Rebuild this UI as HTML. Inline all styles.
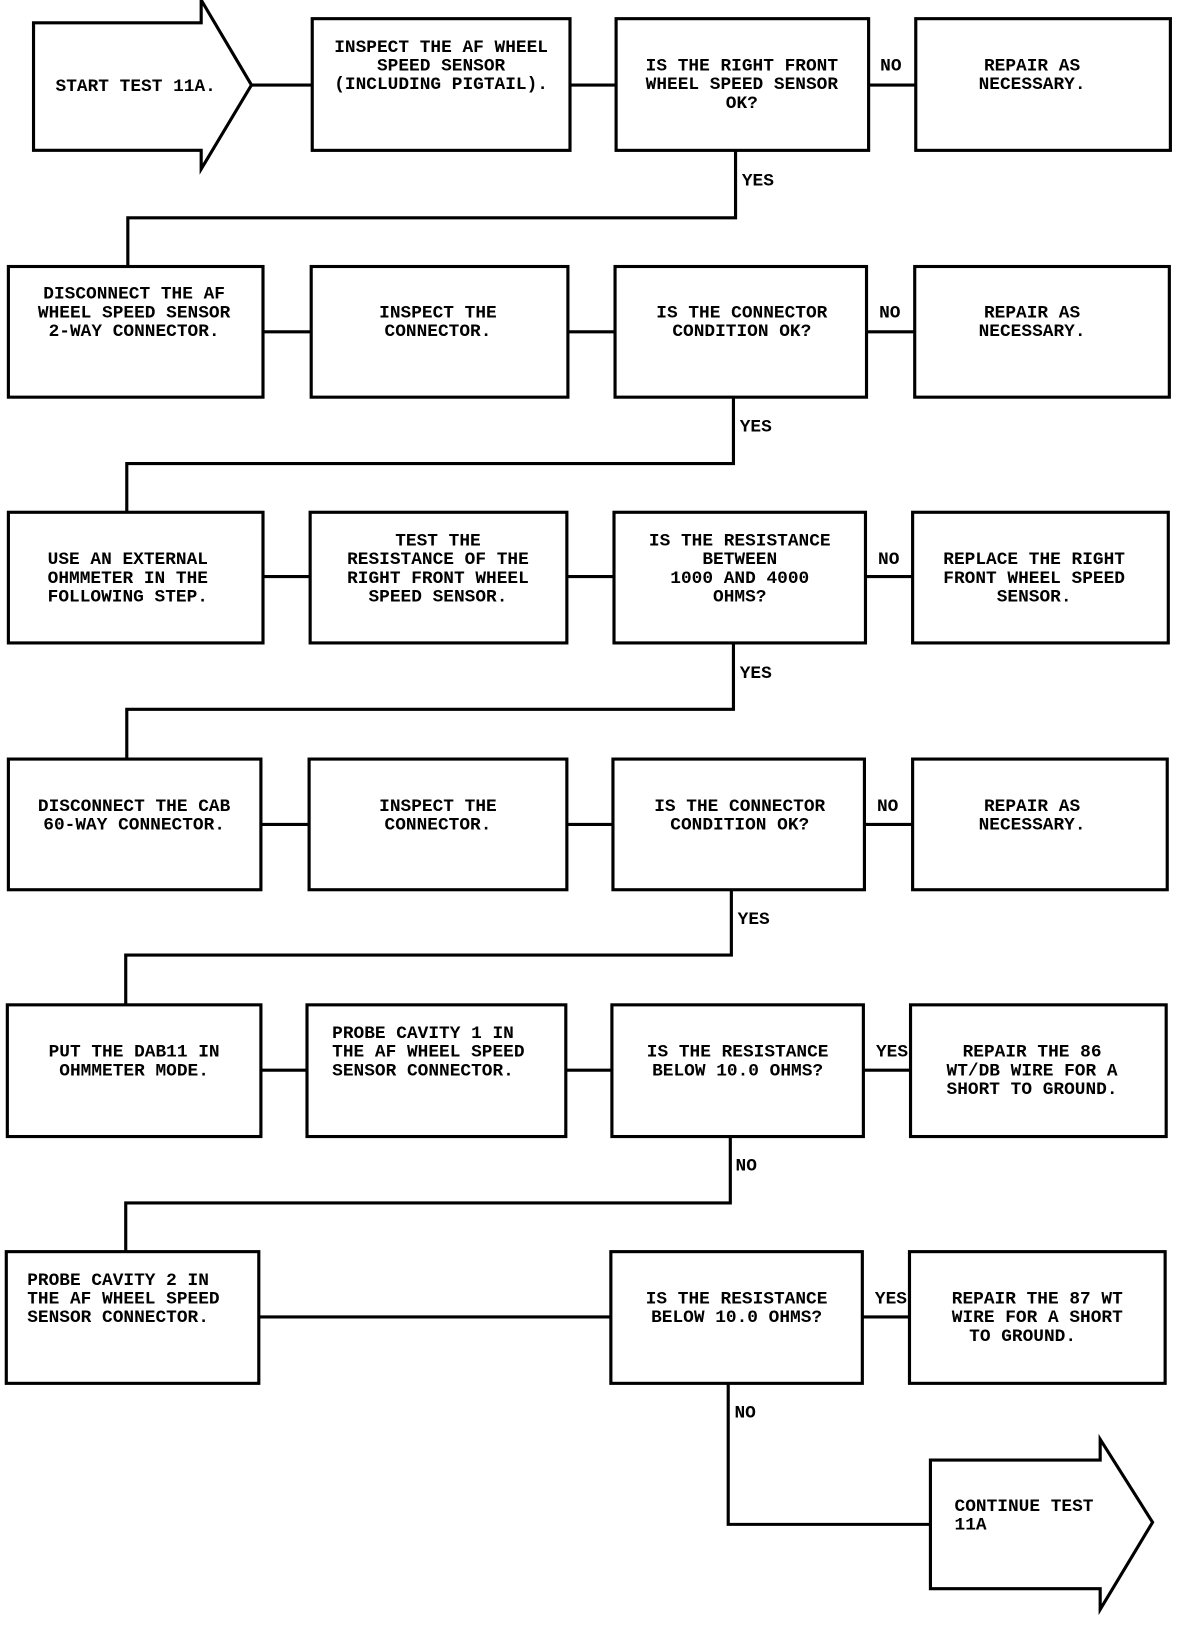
<!DOCTYPE html>
<html><head><meta charset="utf-8"><style>
html,body{margin:0;padding:0;background:#fff;}
svg{display:block;}
text{font-family:"Liberation Mono",monospace;font-size:17px;font-weight:bold;fill:#000;}
</style></head><body>
<svg width="1184" height="1626" viewBox="0 0 1130 1568" preserveAspectRatio="none" xmlns="http://www.w3.org/2000/svg">
<g fill="none" stroke="#000" stroke-width="3">
<!-- start arrow -->
<polygon points="32,22 192,22 192,0 240,82 192,163 192,145 32,145"/>
<!-- row1 -->
<rect x="298" y="18" width="246" height="127"/>
<rect x="588" y="18" width="241" height="127"/>
<rect x="874" y="18" width="243" height="127"/>
<!-- row2 -->
<rect x="8" y="257" width="243" height="126"/>
<rect x="297" y="257" width="245" height="126"/>
<rect x="587" y="257" width="240" height="126"/>
<rect x="873" y="257" width="243" height="126"/>
<!-- row3 -->
<rect x="8" y="494" width="243" height="126"/>
<rect x="296" y="494" width="245" height="126"/>
<rect x="586" y="494" width="240" height="126"/>
<rect x="871" y="494" width="244" height="126"/>
<!-- row4 -->
<rect x="8" y="732" width="241" height="126"/>
<rect x="295" y="732" width="246" height="126"/>
<rect x="585" y="732" width="240" height="126"/>
<rect x="871" y="732" width="243" height="126"/>
<!-- row5 -->
<rect x="7" y="969" width="242" height="127"/>
<rect x="293" y="969" width="247" height="127"/>
<rect x="584" y="969" width="240" height="127"/>
<rect x="869" y="969" width="244" height="127"/>
<!-- row6 -->
<rect x="6" y="1207" width="241" height="127"/>
<rect x="583" y="1207" width="240" height="127"/>
<rect x="868" y="1207" width="244" height="127"/>
<!-- continue arrow -->
<polygon points="888,1408 1050,1408 1050,1388 1100,1468 1050,1552 1050,1532 888,1532"/>
</g>
<g fill="none" stroke="#000" stroke-width="3">
<!-- horizontal connectors -->
<path d="M240 82H298 M544 82H588 M829 82H874"/>
<path d="M251 320H297 M542 320H587 M827 320H873"/>
<path d="M251 556H296 M541 556H586 M826 556H871"/>
<path d="M249 795H295 M541 795H585 M825 795H871"/>
<path d="M249 1032H293 M540 1032H584 M824 1032H869"/>
<path d="M247 1270H583 M823 1270H868"/>
<!-- yes/no down connectors -->
<path d="M702 145V210H122V257"/>
<path d="M700 383V447H121V494"/>
<path d="M700 620V684H121V732"/>
<path d="M698 858V921H120V969"/>
<path d="M697 1096V1160H120V1207"/>
<path d="M695 1334V1470H888"/>
</g>
<g>
<text x="53" y="88">START TEST 11A.</text>
<text x="421" y="50" text-anchor="middle">INSPECT THE AF WHEEL</text>
<text x="421" y="68" text-anchor="middle">SPEED SENSOR</text>
<text x="421" y="86" text-anchor="middle">(INCLUDING PIGTAIL).</text>
<text x="708" y="68" text-anchor="middle">IS THE RIGHT FRONT</text>
<text x="708" y="86" text-anchor="middle">WHEEL SPEED SENSOR</text>
<text x="708" y="104" text-anchor="middle">OK?</text>
<text x="840" y="68">NO</text>
<text x="985" y="68" text-anchor="middle">REPAIR AS</text>
<text x="985" y="86" text-anchor="middle">NECESSARY.</text>
<text x="708" y="179">YES</text>

<text x="128" y="288" text-anchor="middle">DISCONNECT THE AF</text>
<text x="128" y="306" text-anchor="middle">WHEEL SPEED SENSOR</text>
<text x="128" y="324" text-anchor="middle">2-WAY CONNECTOR.</text>
<text x="418" y="306" text-anchor="middle">INSPECT THE</text>
<text x="418" y="324" text-anchor="middle">CONNECTOR.</text>
<text x="708" y="306" text-anchor="middle">IS THE CONNECTOR</text>
<text x="708" y="324" text-anchor="middle">CONDITION OK?</text>
<text x="839" y="306">NO</text>
<text x="985" y="306" text-anchor="middle">REPAIR AS</text>
<text x="985" y="324" text-anchor="middle">NECESSARY.</text>
<text x="706" y="416">YES</text>

<text x="122" y="544" text-anchor="middle">USE AN EXTERNAL</text>
<text x="122" y="562" text-anchor="middle">OHMMETER IN THE</text>
<text x="122" y="580" text-anchor="middle">FOLLOWING STEP.</text>
<text x="418" y="526" text-anchor="middle">TEST THE</text>
<text x="418" y="544" text-anchor="middle">RESISTANCE OF THE</text>
<text x="418" y="562" text-anchor="middle">RIGHT FRONT WHEEL</text>
<text x="418" y="580" text-anchor="middle">SPEED SENSOR.</text>
<text x="706" y="526" text-anchor="middle">IS THE RESISTANCE</text>
<text x="706" y="544" text-anchor="middle">BETWEEN</text>
<text x="706" y="562" text-anchor="middle">1000 AND 4000</text>
<text x="706" y="580" text-anchor="middle">OHMS?</text>
<text x="838" y="544">NO</text>
<text x="987" y="544" text-anchor="middle">REPLACE THE RIGHT</text>
<text x="987" y="562" text-anchor="middle">FRONT WHEEL SPEED</text>
<text x="987" y="580" text-anchor="middle">SENSOR.</text>
<text x="706" y="654">YES</text>

<text x="128" y="782" text-anchor="middle">DISCONNECT THE CAB</text>
<text x="128" y="800" text-anchor="middle">60-WAY CONNECTOR.</text>
<text x="418" y="782" text-anchor="middle">INSPECT THE</text>
<text x="418" y="800" text-anchor="middle">CONNECTOR.</text>
<text x="706" y="782" text-anchor="middle">IS THE CONNECTOR</text>
<text x="706" y="800" text-anchor="middle">CONDITION OK?</text>
<text x="837" y="782">NO</text>
<text x="985" y="782" text-anchor="middle">REPAIR AS</text>
<text x="985" y="800" text-anchor="middle">NECESSARY.</text>
<text x="704" y="891">YES</text>

<text x="128" y="1019" text-anchor="middle">PUT THE DAB11 IN</text>
<text x="128" y="1037" text-anchor="middle">OHMMETER MODE.</text>
<text x="317" y="1001">PROBE CAVITY 1 IN</text>
<text x="317" y="1019">THE AF WHEEL SPEED</text>
<text x="317" y="1037">SENSOR CONNECTOR.</text>
<text x="704" y="1019" text-anchor="middle">IS THE RESISTANCE</text>
<text x="704" y="1037" text-anchor="middle">BELOW 10.0 OHMS?</text>
<text x="836" y="1019">YES</text>
<text x="985" y="1019" text-anchor="middle">REPAIR THE 86</text>
<text x="985" y="1037" text-anchor="middle">WT/DB WIRE FOR A</text>
<text x="985" y="1055" text-anchor="middle">SHORT TO GROUND.</text>
<text x="702" y="1129">NO</text>

<text x="26" y="1239">PROBE CAVITY 2 IN</text>
<text x="26" y="1257">THE AF WHEEL SPEED</text>
<text x="26" y="1275">SENSOR CONNECTOR.</text>
<text x="703" y="1257" text-anchor="middle">IS THE RESISTANCE</text>
<text x="703" y="1275" text-anchor="middle">BELOW 10.0 OHMS?</text>
<text x="835" y="1257">YES</text>
<text x="990" y="1257" text-anchor="middle">REPAIR THE 87 WT</text>
<text x="990" y="1275" text-anchor="middle">WIRE FOR A SHORT</text>
<text x="976" y="1293" text-anchor="middle">TO GROUND.</text>
<text x="701" y="1367">NO</text>

<text x="911" y="1457">CONTINUE TEST</text>
<text x="911" y="1475">11A</text>
</g>
</svg>
</body></html>
